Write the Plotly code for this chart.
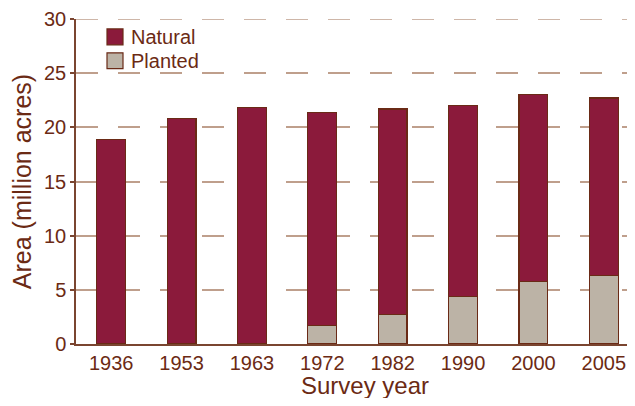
import plotly.graph_objects as go

years = ["1936", "1953", "1963", "1972", "1982", "1990", "2000", "2005"]
planted = [0, 0, 0, 1.7, 2.7, 4.4, 5.8, 6.3]
natural = [18.9, 20.8, 21.8, 19.7, 19.0, 17.6, 17.2, 16.4]

NATURAL_COLOR = "#8b1a3b"
PLANTED_COLOR = "#bcb3a6"
OUTLINE = "#6a2a16"
TEXT = "#6b2a14"
AXIS = "#7a4530"
GRID = "#bf9f8c"
FONT = "Liberation Sans, Arial, sans-serif"
Y_MAX = 30

# the page body adds an 8px margin all round; keep the figure inside it so no scrollbars appear
W, H = 619, 390
ML, MT, MB = 68, 9, 54
PW, PH = W - ML, H - MT - MB


def px(x):
    return (x - ML) / PW


def py(y):
    return 1 - (y - MT) / PH


fig = go.Figure()
fig.add_trace(go.Bar(
    x=years, y=planted, name="Planted", showlegend=False,
    marker=dict(color=PLANTED_COLOR, line=dict(color=OUTLINE, width=1.2)),
))
fig.add_trace(go.Bar(
    x=years, y=natural, name="Natural", showlegend=False,
    marker=dict(color=NATURAL_COLOR, line=dict(color=OUTLINE, width=1.2)),
))

# plotly drops the gridline at the top edge, so draw it
fig.add_shape(
    type="line", xref="paper", yref="y", x0=0, x1=1, y0=Y_MAX, y1=Y_MAX,
    line=dict(color=GRID, width=1.5, dash="22px,20px"), layer="below",
)

# hand-drawn legend
for i, (label, color) in enumerate([("Natural", NATURAL_COLOR), ("Planted", PLANTED_COLOR)]):
    top = 19 + i * 24
    fig.add_shape(
        type="rect", xref="paper", yref="paper",
        x0=px(99), x1=px(115), y0=py(top + 16), y1=py(top),
        fillcolor=color, line=dict(color=OUTLINE, width=1.2),
    )
    fig.add_annotation(
        xref="paper", yref="paper", x=px(121), y=py(top + 8),
        text=label, showarrow=False, xanchor="left", yanchor="middle",
        font=dict(size=20, color=TEXT),
    )

# x title sits a little right of the plot centre in the original
fig.add_annotation(
    xref="paper", yref="paper", x=px(357), y=py(378),
    text="Survey year", showarrow=False, xanchor="center", yanchor="middle",
    font=dict(size=24, color=TEXT),
)

fig.update_layout(
    width=W, height=H,
    barmode="stack", bargap=0.59,
    plot_bgcolor="white", paper_bgcolor="white",
    margin=dict(l=ML, r=0, t=MT, b=MB),
    font=dict(family=FONT, size=20, color=TEXT),
    showlegend=False,
)
fig.update_xaxes(
    range=[-0.5, 7.33], showline=True, linecolor=AXIS, linewidth=1.5,
    ticks="", showgrid=False, ticklabeloverflow="allow",
)
fig.update_yaxes(
    range=[0, Y_MAX], tickvals=[0, 5, 10, 15, 20, 25, 30],
    showline=True, linecolor=AXIS, linewidth=1.5,
    ticks="outside", ticklen=4, tickcolor=AXIS, tickwidth=1.5,
    ticklabeloverflow="allow",
    showgrid=True, gridcolor=GRID, gridwidth=1.5, griddash="22px,20px",
    zeroline=False,
    title=dict(text="Area (million acres)", font=dict(size=25, color=TEXT), standoff=7),
)

fig.write_html("out.html")
